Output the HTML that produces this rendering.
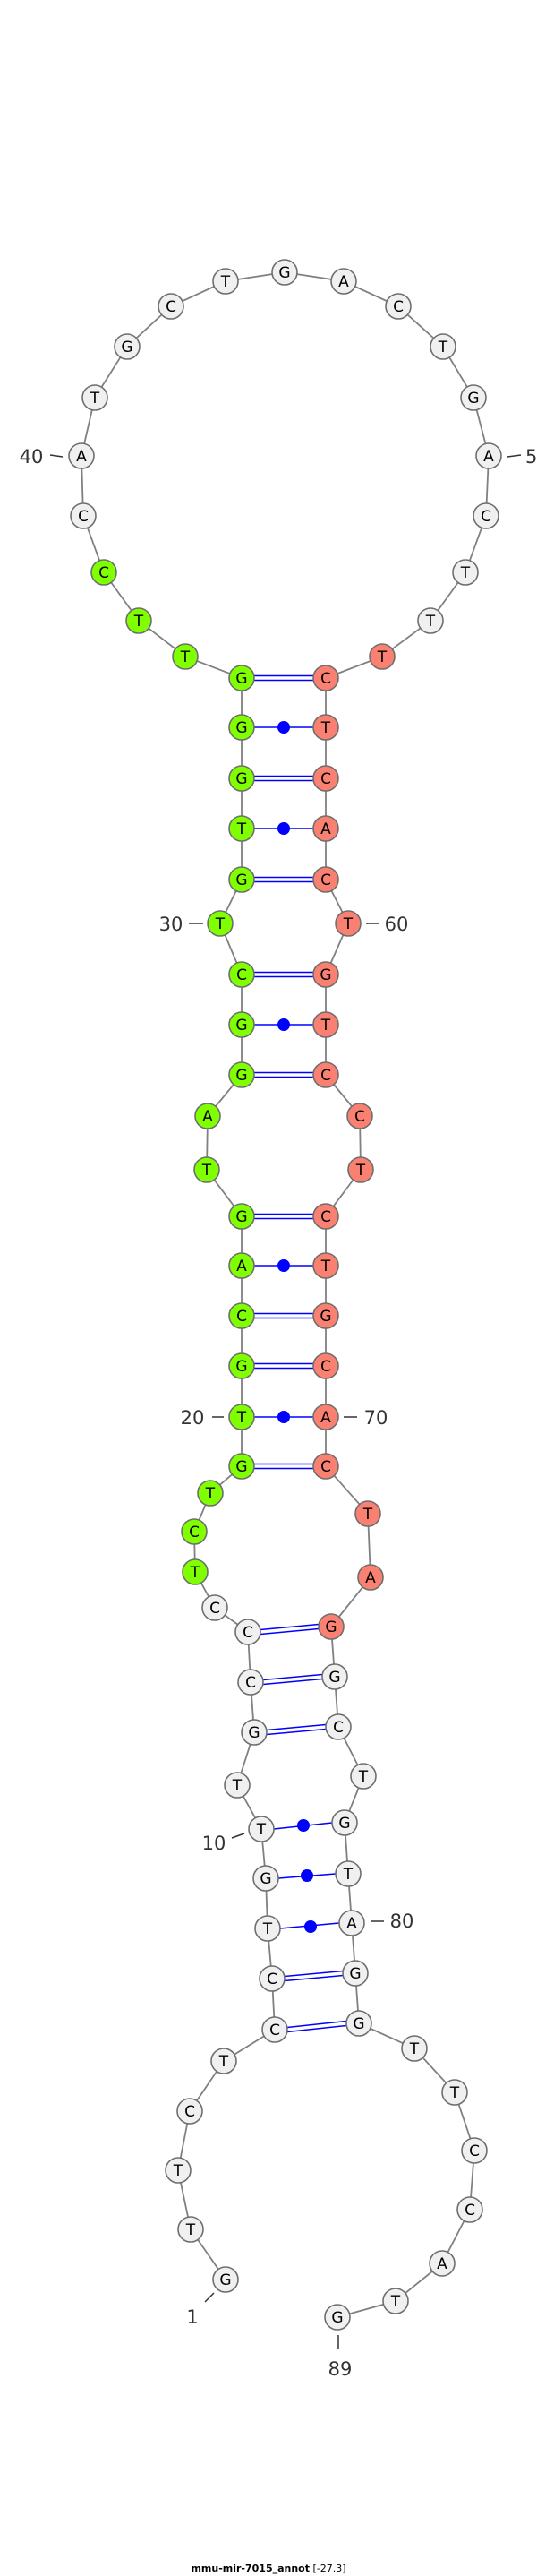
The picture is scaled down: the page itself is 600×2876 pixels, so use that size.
<!DOCTYPE html>
<html><head><meta charset="utf-8"><style>
html,body{margin:0;padding:0;background:#fff;}
svg{display:block;}
.n{stroke:#6e6e6e;stroke-width:1.6;}
.w{fill:#f0f0f0}.g{fill:#7fff00}.s{fill:#fa8072}
.t{font-family:"DejaVu Sans","Liberation Sans",sans-serif;font-size:17px;text-anchor:middle;fill:#000;}
.l{font-family:"DejaVu Sans","Liberation Sans",sans-serif;font-size:21px;fill:#333;text-anchor:middle;}
.p{stroke:#0000ff;stroke-width:1.5;}
.tk{stroke:#333;stroke-width:1.5;}
</style></head><body>
<svg width="600" height="2876" xmlns="http://www.w3.org/2000/svg">
<polyline fill="none" stroke="#808080" stroke-width="1.8" points="252,2545 213,2489 199,2423 212,2357 250,2301 307,2266 304,2209 299,2153 297,2097 292,2042 265,1993 284,1934 280,1878 277,1822 240,1795 218,1755 217,1710 235,1667 270,1637 270,1582 270,1525 270,1469 270,1413 270,1358 231,1306 232,1246 270,1200 270,1144 270,1088 246,1031 270,982 270,925 270,869 270,812 270,757 207,733 155,693 116,639 93,576 91,509 106,444 142,387 191,342 252,314 318,304 384,314 445,342 495,387 529,444 546,509 543,576 520,639 481,693 427,733 364,757 364,812 364,869 364,925 364,982 389,1031 364,1088 364,1144 364,1200 402,1246 403,1306 364,1358 364,1413 364,1469 364,1525 364,1582 364,1637 411,1690 414,1761 370,1816 374,1872 378,1928 406,1983 385,2035 389,2092 393,2147 397,2203 401,2259 463,2287 508,2336 530,2401 525,2467 494,2527 442,2569 377,2587"/>
<!-- pairs -->
<g class="p">
<line x1="284" y1="754.5" x2="350" y2="754.5"/><line x1="284" y1="759.5" x2="350" y2="759.5"/>
<line x1="284" y1="812" x2="350" y2="812"/>
<line x1="284" y1="866.5" x2="350" y2="866.5"/><line x1="284" y1="871.5" x2="350" y2="871.5"/>
<line x1="284" y1="925" x2="350" y2="925"/>
<line x1="284" y1="979.5" x2="350" y2="979.5"/><line x1="284" y1="984.5" x2="350" y2="984.5"/>
<line x1="284" y1="1085.5" x2="350" y2="1085.5"/><line x1="284" y1="1090.5" x2="350" y2="1090.5"/>
<line x1="284" y1="1144" x2="350" y2="1144"/>
<line x1="284" y1="1197.5" x2="350" y2="1197.5"/><line x1="284" y1="1202.5" x2="350" y2="1202.5"/>
<line x1="284" y1="1355.5" x2="350" y2="1355.5"/><line x1="284" y1="1360.5" x2="350" y2="1360.5"/>
<line x1="284" y1="1413" x2="350" y2="1413"/>
<line x1="284" y1="1466.5" x2="350" y2="1466.5"/><line x1="284" y1="1471.5" x2="350" y2="1471.5"/>
<line x1="284" y1="1522.5" x2="350" y2="1522.5"/><line x1="284" y1="1527.5" x2="350" y2="1527.5"/>
<line x1="284" y1="1582" x2="350" y2="1582"/>
<line x1="284" y1="1634.5" x2="350" y2="1634.5"/><line x1="284" y1="1639.5" x2="350" y2="1639.5"/>
<line x1="291" y1="1819.5" x2="356" y2="1813.5"/><line x1="291" y1="1824.5" x2="356" y2="1818.5"/>
<line x1="294" y1="1875.5" x2="360" y2="1869.5"/><line x1="294" y1="1880.5" x2="360" y2="1874.5"/>
<line x1="298" y1="1931.5" x2="364" y2="1925.5"/><line x1="298" y1="1936.5" x2="364" y2="1930.5"/>
<line x1="306" y1="2042" x2="371" y2="2035"/>
<line x1="311" y1="2097" x2="375" y2="2092"/>
<line x1="313" y1="2153" x2="379" y2="2147"/>
<line x1="318" y1="2206.5" x2="383" y2="2200.5"/><line x1="318" y1="2211.5" x2="383" y2="2205.5"/>
<line x1="321" y1="2263.5" x2="387" y2="2256.5"/><line x1="321" y1="2268.5" x2="387" y2="2261.5"/>
</g>
<g fill="#0000ff">
<circle cx="317" cy="812" r="7"/><circle cx="317" cy="925" r="7"/><circle cx="317" cy="1144" r="7"/>
<circle cx="317" cy="1413" r="7"/><circle cx="317" cy="1582" r="7"/>
<circle cx="339" cy="2038" r="7"/><circle cx="343" cy="2094" r="7"/><circle cx="347" cy="2151" r="7"/>
</g>
<!-- nodes -->
<g class="n">
<circle class="w" cx="252" cy="2545" r="14"/><circle class="w" cx="213" cy="2489" r="14"/><circle class="w" cx="199" cy="2423" r="14"/><circle class="w" cx="212" cy="2357" r="14"/><circle class="w" cx="250" cy="2301" r="14"/><circle class="w" cx="307" cy="2266" r="14"/><circle class="w" cx="304" cy="2209" r="14"/><circle class="w" cx="299" cy="2153" r="14"/><circle class="w" cx="297" cy="2097" r="14"/><circle class="w" cx="292" cy="2042" r="14"/><circle class="w" cx="265" cy="1993" r="14"/><circle class="w" cx="284" cy="1934" r="14"/><circle class="w" cx="280" cy="1878" r="14"/><circle class="w" cx="277" cy="1822" r="14"/><circle class="w" cx="240" cy="1795" r="14"/>
<circle class="g" cx="218" cy="1755" r="14"/><circle class="g" cx="217" cy="1710" r="14"/><circle class="g" cx="235" cy="1667" r="14"/><circle class="g" cx="270" cy="1637" r="14"/><circle class="g" cx="270" cy="1582" r="14"/><circle class="g" cx="270" cy="1525" r="14"/><circle class="g" cx="270" cy="1469" r="14"/><circle class="g" cx="270" cy="1413" r="14"/><circle class="g" cx="270" cy="1358" r="14"/><circle class="g" cx="231" cy="1306" r="14"/><circle class="g" cx="232" cy="1246" r="14"/><circle class="g" cx="270" cy="1200" r="14"/><circle class="g" cx="270" cy="1144" r="14"/><circle class="g" cx="270" cy="1088" r="14"/><circle class="g" cx="246" cy="1031" r="14"/><circle class="g" cx="270" cy="982" r="14"/><circle class="g" cx="270" cy="925" r="14"/><circle class="g" cx="270" cy="869" r="14"/><circle class="g" cx="270" cy="812" r="14"/><circle class="g" cx="270" cy="757" r="14"/><circle class="g" cx="207" cy="733" r="14"/><circle class="g" cx="155" cy="693" r="14"/><circle class="g" cx="116" cy="639" r="14"/>
<circle class="w" cx="93" cy="576" r="14"/><circle class="w" cx="91" cy="509" r="14"/><circle class="w" cx="106" cy="444" r="14"/><circle class="w" cx="142" cy="387" r="14"/><circle class="w" cx="191" cy="342" r="14"/><circle class="w" cx="252" cy="314" r="14"/><circle class="w" cx="318" cy="304" r="14"/><circle class="w" cx="384" cy="314" r="14"/><circle class="w" cx="445" cy="342" r="14"/><circle class="w" cx="495" cy="387" r="14"/><circle class="w" cx="529" cy="444" r="14"/><circle class="w" cx="546" cy="509" r="14"/><circle class="w" cx="543" cy="576" r="14"/><circle class="w" cx="520" cy="639" r="14"/><circle class="w" cx="481" cy="693" r="14"/>
<circle class="s" cx="427" cy="733" r="14"/><circle class="s" cx="364" cy="757" r="14"/><circle class="s" cx="364" cy="812" r="14"/><circle class="s" cx="364" cy="869" r="14"/><circle class="s" cx="364" cy="925" r="14"/><circle class="s" cx="364" cy="982" r="14"/><circle class="s" cx="389" cy="1031" r="14"/><circle class="s" cx="364" cy="1088" r="14"/><circle class="s" cx="364" cy="1144" r="14"/><circle class="s" cx="364" cy="1200" r="14"/><circle class="s" cx="402" cy="1246" r="14"/><circle class="s" cx="403" cy="1306" r="14"/><circle class="s" cx="364" cy="1358" r="14"/><circle class="s" cx="364" cy="1413" r="14"/><circle class="s" cx="364" cy="1469" r="14"/><circle class="s" cx="364" cy="1525" r="14"/><circle class="s" cx="364" cy="1582" r="14"/><circle class="s" cx="364" cy="1637" r="14"/><circle class="s" cx="411" cy="1690" r="14"/><circle class="s" cx="414" cy="1761" r="14"/><circle class="s" cx="370" cy="1816" r="14"/>
<circle class="w" cx="374" cy="1872" r="14"/><circle class="w" cx="378" cy="1928" r="14"/><circle class="w" cx="406" cy="1983" r="14"/><circle class="w" cx="385" cy="2035" r="14"/><circle class="w" cx="389" cy="2092" r="14"/><circle class="w" cx="393" cy="2147" r="14"/><circle class="w" cx="397" cy="2203" r="14"/><circle class="w" cx="401" cy="2259" r="14"/><circle class="w" cx="463" cy="2287" r="14"/><circle class="w" cx="508" cy="2336" r="14"/><circle class="w" cx="530" cy="2401" r="14"/><circle class="w" cx="525" cy="2467" r="14"/><circle class="w" cx="494" cy="2527" r="14"/><circle class="w" cx="442" cy="2569" r="14"/><circle class="w" cx="377" cy="2587" r="14"/>
</g>
<g class="t">
<text x="252" y="2551">G</text><text x="213" y="2495">T</text><text x="199" y="2429">T</text><text x="212" y="2363">C</text><text x="250" y="2307">T</text><text x="307" y="2272">C</text><text x="304" y="2215">C</text><text x="299" y="2159">T</text><text x="297" y="2103">G</text><text x="292" y="2048">T</text><text x="265" y="1999">T</text><text x="284" y="1940">G</text><text x="280" y="1884">C</text><text x="277" y="1828">C</text><text x="240" y="1801">C</text>
<text x="218" y="1761">T</text><text x="217" y="1716">C</text><text x="235" y="1673">T</text><text x="270" y="1643">G</text><text x="270" y="1588">T</text><text x="270" y="1531">G</text><text x="270" y="1475">C</text><text x="270" y="1419">A</text><text x="270" y="1364">G</text><text x="231" y="1312">T</text><text x="232" y="1252">A</text><text x="270" y="1206">G</text><text x="270" y="1150">G</text><text x="270" y="1094">C</text><text x="246" y="1037">T</text><text x="270" y="988">G</text><text x="270" y="931">T</text><text x="270" y="875">G</text><text x="270" y="818">G</text><text x="270" y="763">G</text><text x="207" y="739">T</text><text x="155" y="699">T</text><text x="116" y="645">C</text>
<text x="93" y="582">C</text><text x="91" y="515">A</text><text x="106" y="450">T</text><text x="142" y="393">G</text><text x="191" y="348">C</text><text x="252" y="320">T</text><text x="318" y="310">G</text><text x="384" y="320">A</text><text x="445" y="348">C</text><text x="495" y="393">T</text><text x="529" y="450">G</text><text x="546" y="515">A</text><text x="543" y="582">C</text><text x="520" y="645">T</text><text x="481" y="699">T</text>
<text x="427" y="739">T</text><text x="364" y="763">C</text><text x="364" y="818">T</text><text x="364" y="875">C</text><text x="364" y="931">A</text><text x="364" y="988">C</text><text x="389" y="1037">T</text><text x="364" y="1094">G</text><text x="364" y="1150">T</text><text x="364" y="1206">C</text><text x="402" y="1252">C</text><text x="403" y="1312">T</text><text x="364" y="1364">C</text><text x="364" y="1419">T</text><text x="364" y="1475">G</text><text x="364" y="1531">C</text><text x="364" y="1588">A</text><text x="364" y="1643">C</text><text x="411" y="1696">T</text><text x="414" y="1767">A</text><text x="370" y="1822">G</text>
<text x="374" y="1878">G</text><text x="378" y="1934">C</text><text x="406" y="1989">T</text><text x="385" y="2041">G</text><text x="389" y="2098">T</text><text x="393" y="2153">A</text><text x="397" y="2209">G</text><text x="401" y="2265">G</text><text x="463" y="2293">T</text><text x="508" y="2342">T</text><text x="530" y="2407">C</text><text x="525" y="2473">C</text><text x="494" y="2533">A</text><text x="442" y="2575">T</text><text x="377" y="2593">G</text>
</g>
<!-- number labels -->
<g class="tk">
<line x1="56" y1="508" x2="70" y2="510"/>
<line x1="567" y1="510" x2="582" y2="508"/>
<line x1="211" y1="1031" x2="227" y2="1031"/>
<line x1="409" y1="1031" x2="424" y2="1031"/>
<line x1="237" y1="1582" x2="250" y2="1582"/>
<line x1="384" y1="1582" x2="399" y2="1582"/>
<line x1="259" y1="2052" x2="273" y2="2047"/>
<line x1="414" y1="2145" x2="429" y2="2145"/>
<line x1="229" y1="2570" x2="239" y2="2560"/>
<line x1="378" y1="2607" x2="378" y2="2623"/>
</g>
<g class="l">
<text x="35" y="517">40</text>
<text x="587" y="517" text-anchor="start">50</text>
<text x="191" y="1039">30</text>
<text x="443" y="1039">60</text>
<text x="215" y="1590">20</text>
<text x="420" y="1590">70</text>
<text x="239" y="2065">10</text>
<text x="449" y="2152">80</text>
<text x="215" y="2594">1</text>
<text x="380" y="2652">89</text>
</g>
<text x="300" y="2871" text-anchor="middle" font-family="'DejaVu Sans','Liberation Sans',sans-serif" font-size="11" fill="#000"><tspan font-weight="bold">mmu-mir-7015_annot</tspan> [-27.3]</text>
</svg>
</body></html>
